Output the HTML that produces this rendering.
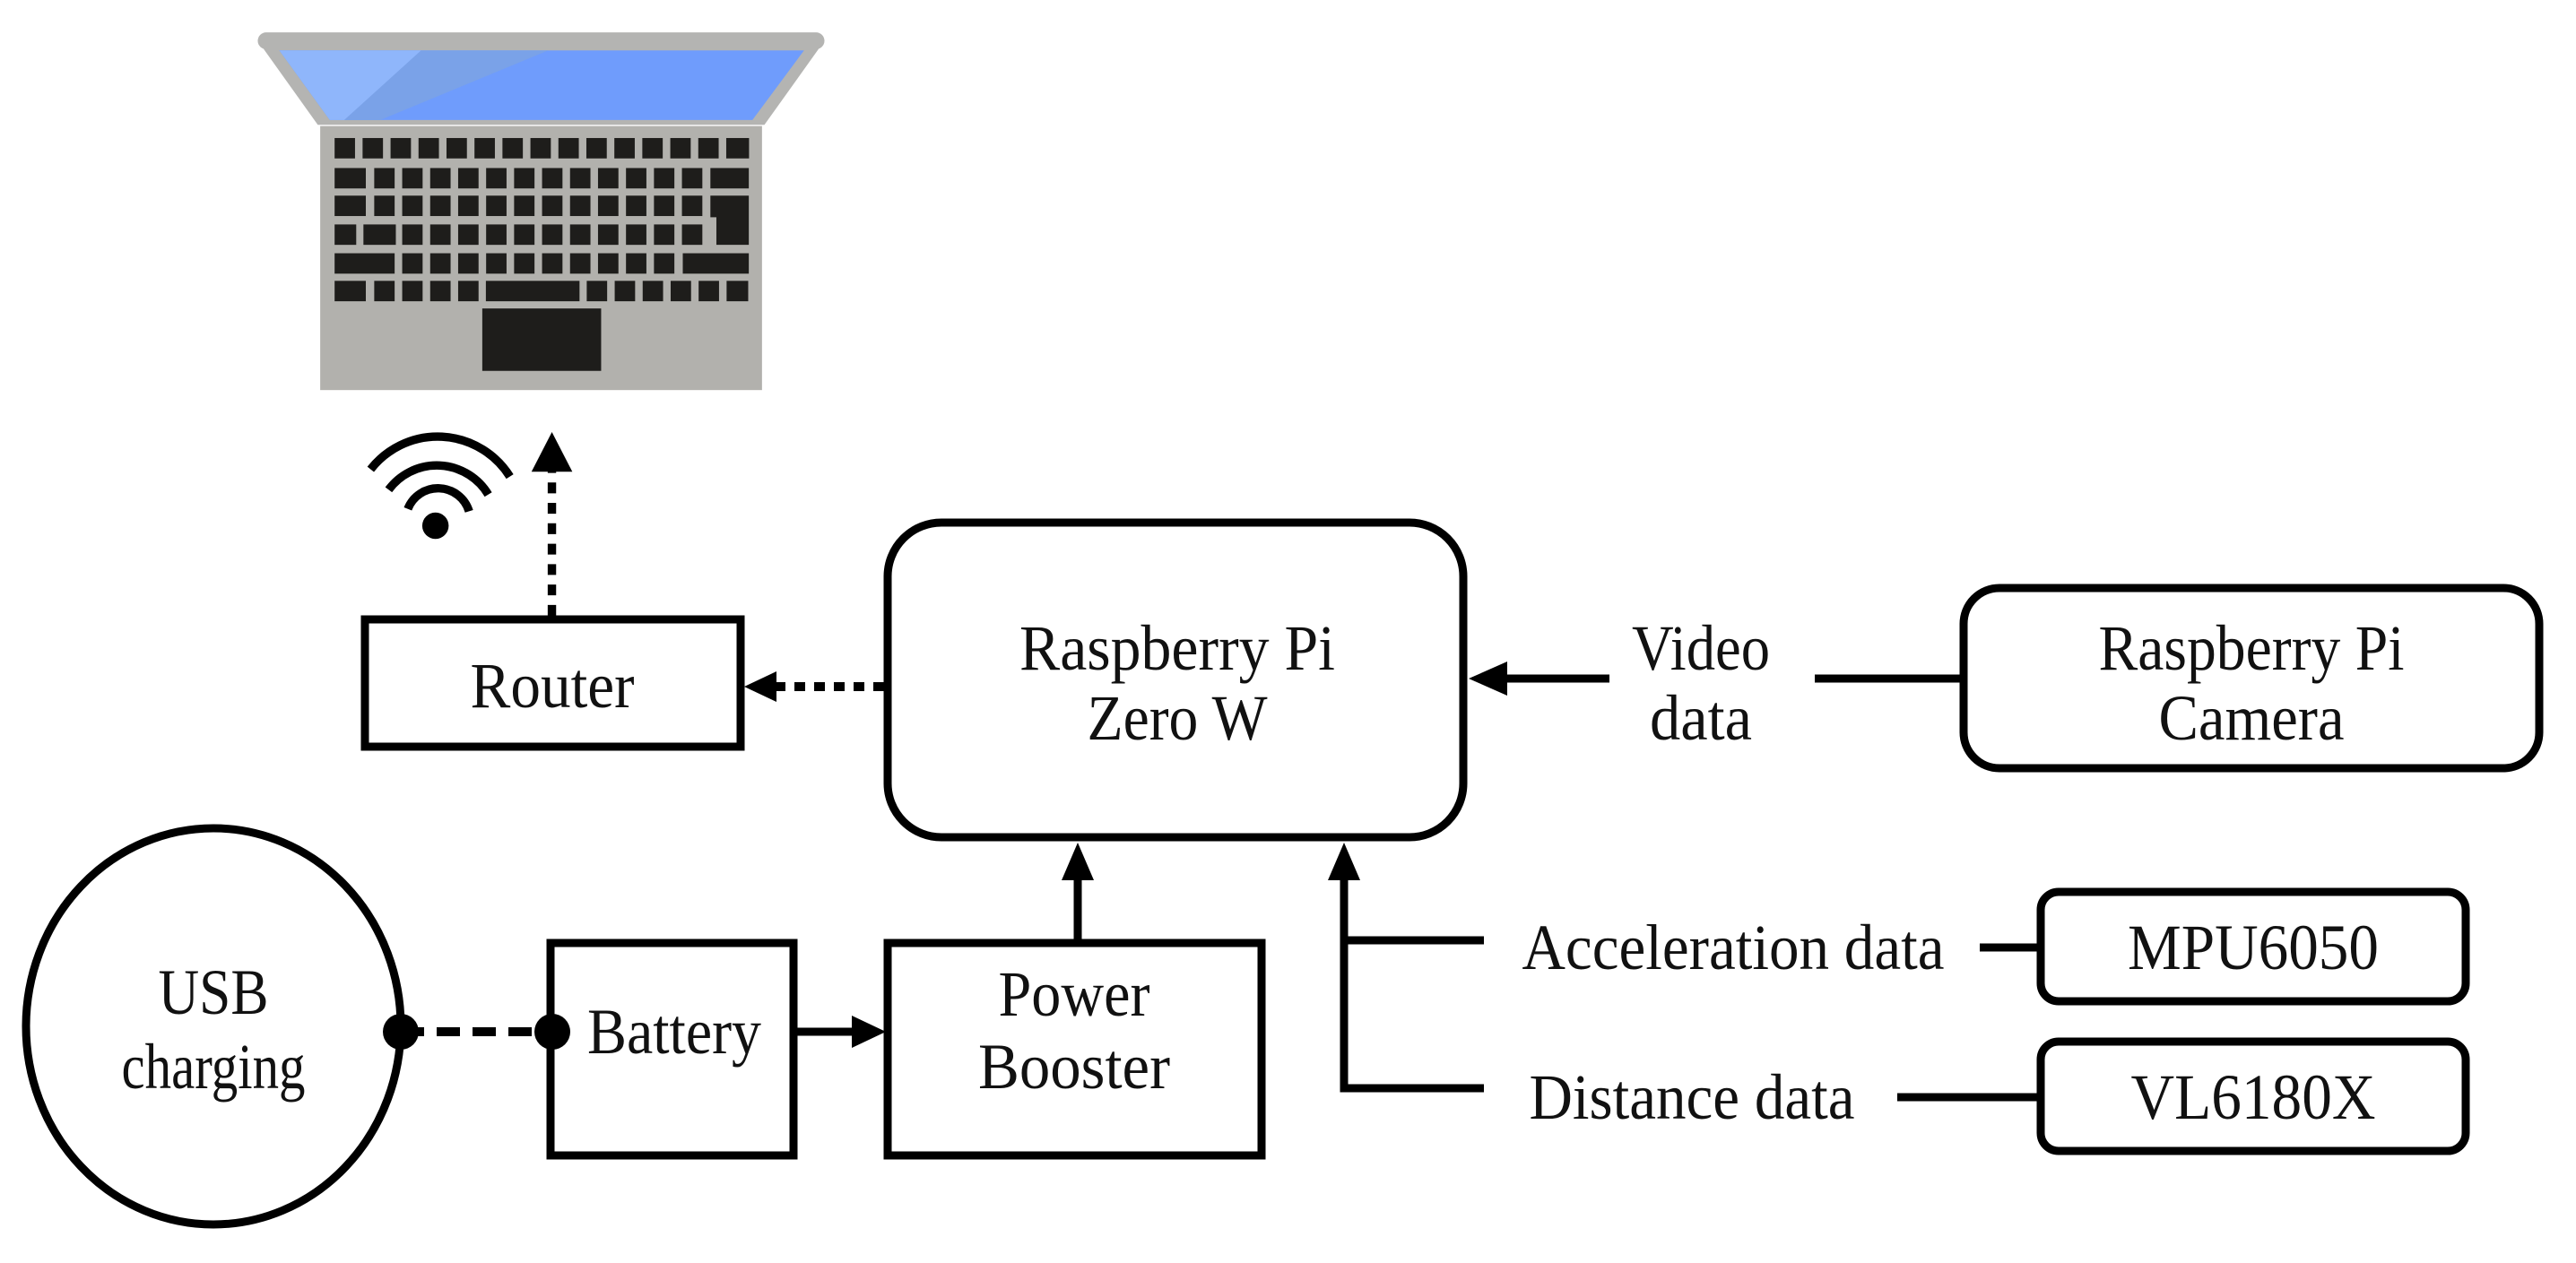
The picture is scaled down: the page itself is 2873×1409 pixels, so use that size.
<!DOCTYPE html>
<html><head><meta charset="utf-8"><style>
html,body{margin:0;padding:0;background:#fff;}
svg{display:block;}
text{font-family:"Liberation Serif",serif;font-size:72px;fill:#111;}
</style></head><body>
<svg width="2873" height="1409" viewBox="0 0 2873 1409" xmlns="http://www.w3.org/2000/svg">
<g transform="translate(250,0) scale(1.339) translate(-250,0)">
<!-- Laptop -->
<polygon points="278,34 750,34 700,104 328,104" fill="#b4b4b2"/>
<rect x="278" y="27" width="472" height="14" rx="7" fill="#b4b4b2"/>
<polygon points="296,42 733,42 690,100 338,100" fill="#6f9cfc"/>
<polygon points="296,42 520,42 380,100 338,100" fill="#7aa2e8"/>
<polygon points="296,42 414,42 350,100 338,100" fill="#8fb6fb"/>
<rect x="330" y="105" width="368" height="220" fill="#b2b1ad"/>
<g fill="#1e1d1b">
<rect x="342" y="115" width="17" height="17"/><rect x="365.3" y="115" width="17" height="17"/><rect x="388.6" y="115" width="17" height="17"/><rect x="411.9" y="115" width="17" height="17"/><rect x="435.2" y="115" width="17" height="17"/><rect x="458.5" y="115" width="17" height="17"/><rect x="481.8" y="115" width="17" height="17"/><rect x="505.1" y="115" width="17" height="17"/><rect x="528.4" y="115" width="17" height="17"/><rect x="551.7" y="115" width="17" height="17"/><rect x="575" y="115" width="17" height="17"/><rect x="598.3" y="115" width="17" height="17"/><rect x="621.6" y="115" width="17" height="17"/><rect x="644.9" y="115" width="17" height="17"/><rect x="668.2" y="115" width="19" height="17"/>
<rect x="342" y="140" width="26" height="17"/>
<rect x="375" y="140" width="17" height="17"/><rect x="398.3" y="140" width="17" height="17"/><rect x="421.6" y="140" width="17" height="17"/><rect x="444.9" y="140" width="17" height="17"/><rect x="468.2" y="140" width="17" height="17"/><rect x="491.5" y="140" width="17" height="17"/><rect x="514.8" y="140" width="17" height="17"/><rect x="538.1" y="140" width="17" height="17"/><rect x="561.4" y="140" width="17" height="17"/><rect x="584.7" y="140" width="17" height="17"/><rect x="608" y="140" width="17" height="17"/><rect x="631.3" y="140" width="17" height="17"/>
<rect x="655" y="140" width="32" height="17"/>
<rect x="342" y="163" width="26" height="17"/>
<rect x="375" y="163" width="17" height="17"/><rect x="398.3" y="163" width="17" height="17"/><rect x="421.6" y="163" width="17" height="17"/><rect x="444.9" y="163" width="17" height="17"/><rect x="468.2" y="163" width="17" height="17"/><rect x="491.5" y="163" width="17" height="17"/><rect x="514.8" y="163" width="17" height="17"/><rect x="538.1" y="163" width="17" height="17"/><rect x="561.4" y="163" width="17" height="17"/><rect x="584.7" y="163" width="17" height="17"/><rect x="608" y="163" width="17" height="17"/><rect x="631.3" y="163" width="17" height="17"/>
<polygon points="655,163 687,163 687,204 660,204 660,181 655,181"/>
<rect x="342" y="187" width="18" height="17"/><rect x="366" y="187" width="27" height="17"/>
<rect x="398.3" y="187" width="17" height="17"/><rect x="421.6" y="187" width="17" height="17"/><rect x="444.9" y="187" width="17" height="17"/><rect x="468.2" y="187" width="17" height="17"/><rect x="491.5" y="187" width="17" height="17"/><rect x="514.8" y="187" width="17" height="17"/><rect x="538.1" y="187" width="17" height="17"/><rect x="561.4" y="187" width="17" height="17"/><rect x="584.7" y="187" width="17" height="17"/><rect x="608" y="187" width="17" height="17"/><rect x="631.3" y="187" width="17" height="17"/>
<rect x="342" y="211" width="50" height="17"/>
<rect x="398.3" y="211" width="17" height="17"/><rect x="421.6" y="211" width="17" height="17"/><rect x="444.9" y="211" width="17" height="17"/><rect x="468.2" y="211" width="17" height="17"/><rect x="491.5" y="211" width="17" height="17"/><rect x="514.8" y="211" width="17" height="17"/><rect x="538.1" y="211" width="17" height="17"/><rect x="561.4" y="211" width="17" height="17"/><rect x="584.7" y="211" width="17" height="17"/><rect x="608" y="211" width="17" height="17"/>
<rect x="632" y="211" width="55" height="17"/>
<rect x="342" y="234" width="26" height="17"/><rect x="375" y="234" width="17" height="17"/><rect x="398.3" y="234" width="17" height="17"/><rect x="421.6" y="234" width="17" height="17"/><rect x="444.9" y="234" width="17" height="17"/>
<rect x="468" y="234" width="78" height="17"/>
<rect x="552" y="234" width="17" height="17"/><rect x="575.3" y="234" width="17" height="17"/><rect x="598.6" y="234" width="17" height="17"/><rect x="621.9" y="234" width="17" height="17"/><rect x="645.2" y="234" width="17" height="17"/><rect x="668.5" y="234" width="18" height="17"/>
<rect x="465" y="257" width="99" height="52"/>
</g>
<!-- wifi -->
<g fill="none" stroke="#000" stroke-width="7">
<path d="M 372,391 A 71 71 0 0 1 488,397"/>
<path d="M 387,408 A 50 50 0 0 1 470,412"/>
<path d="M 403,424 A 27 27 0 0 1 454,426"/>
</g>
<circle cx="426" cy="438" r="11" fill="#000"/>
<!-- dotted arrow up -->
<line x1="523" y1="513" x2="523" y2="392" stroke="#000" stroke-width="7" stroke-dasharray="9,8"/>
<polygon points="506,393 540,393 523,360" fill="#000"/>
</g>
<!-- Router -->
<rect x="407" y="691" width="419" height="142" fill="none" stroke="#000" stroke-width="9"/>
<text x="616" y="789" text-anchor="middle" textLength="183" lengthAdjust="spacingAndGlyphs">Router</text>
<line x1="986" y1="766" x2="862" y2="766" stroke="#000" stroke-width="10" stroke-dasharray="12,10"/>
<polygon points="830,766 866,749 866,783" fill="#000"/>
<!-- RPi Zero -->
<rect x="990" y="583" width="642" height="351" rx="60" fill="none" stroke="#000" stroke-width="9"/>
<text x="1313" y="747" text-anchor="middle" textLength="352" lengthAdjust="spacingAndGlyphs">Raspberry Pi</text>
<text x="1313" y="825" text-anchor="middle" textLength="201" lengthAdjust="spacingAndGlyphs">Zero W</text>
<line x1="1795" y1="757" x2="1670" y2="757" stroke="#000" stroke-width="9"/>
<polygon points="1638,757 1681,738 1681,776" fill="#000"/>
<text x="1897" y="747" text-anchor="middle" textLength="154" lengthAdjust="spacingAndGlyphs">Video</text>
<text x="1897" y="825" text-anchor="middle" textLength="114" lengthAdjust="spacingAndGlyphs">data</text>
<line x1="2024" y1="757" x2="2190" y2="757" stroke="#000" stroke-width="9"/>
<!-- Camera -->
<rect x="2190" y="656" width="642" height="201" rx="40" fill="none" stroke="#000" stroke-width="9"/>
<text x="2511" y="747" text-anchor="middle" textLength="341" lengthAdjust="spacingAndGlyphs">Raspberry Pi</text>
<text x="2511" y="825" text-anchor="middle" textLength="207" lengthAdjust="spacingAndGlyphs">Camera</text>
<line x1="1202" y1="1050" x2="1202" y2="972" stroke="#000" stroke-width="9"/>
<polygon points="1202,940 1184,982 1220,982" fill="#000"/>
<polyline points="1655,1049 1499,1049" fill="none" stroke="#000" stroke-width="9"/>
<polyline points="1655,1214 1499,1214 1499,972" fill="none" stroke="#000" stroke-width="9"/>
<polygon points="1499,940 1481,982 1517,982" fill="#000"/>
<text x="1933" y="1081" text-anchor="middle" textLength="471" lengthAdjust="spacingAndGlyphs">Acceleration data</text>
<text x="1887" y="1248" text-anchor="middle" textLength="363" lengthAdjust="spacingAndGlyphs">Distance data</text>
<line x1="2208" y1="1057" x2="2274" y2="1057" stroke="#000" stroke-width="9"/>
<line x1="2116" y1="1224" x2="2274" y2="1224" stroke="#000" stroke-width="9"/>
<rect x="2276" y="995" width="474" height="122" rx="20" fill="none" stroke="#000" stroke-width="9"/>
<text x="2513" y="1081" text-anchor="middle" textLength="280" lengthAdjust="spacingAndGlyphs">MPU6050</text>
<rect x="2276" y="1162" width="474" height="122" rx="20" fill="none" stroke="#000" stroke-width="9"/>
<text x="2513" y="1248" text-anchor="middle" textLength="273" lengthAdjust="spacingAndGlyphs">VL6180X</text>
<rect x="990" y="1052" width="417" height="237" fill="none" stroke="#000" stroke-width="9"/>
<text x="1198" y="1133" text-anchor="middle" textLength="169" lengthAdjust="spacingAndGlyphs">Power</text>
<text x="1198" y="1214" text-anchor="middle" textLength="214" lengthAdjust="spacingAndGlyphs">Booster</text>
<rect x="614" y="1052" width="271" height="237" fill="none" stroke="#000" stroke-width="9"/>
<text x="752" y="1175" text-anchor="middle" textLength="194" lengthAdjust="spacingAndGlyphs">Battery</text>
<line x1="889" y1="1151" x2="955" y2="1151" stroke="#000" stroke-width="9"/>
<polygon points="988,1151 950,1133 950,1169" fill="#000"/>
<ellipse cx="238" cy="1145" rx="209" ry="221" fill="none" stroke="#000" stroke-width="9"/>
<text x="238" y="1131" text-anchor="middle" textLength="123" lengthAdjust="spacingAndGlyphs">USB</text>
<text x="238" y="1214" text-anchor="middle" textLength="205" lengthAdjust="spacingAndGlyphs">charging</text>
<line x1="447" y1="1151" x2="614" y2="1151" stroke="#000" stroke-width="10" stroke-dasharray="26,14"/>
<circle cx="447" cy="1151" r="20" fill="#000"/>
<circle cx="616" cy="1151" r="20" fill="#000"/>
</svg>
</body></html>
